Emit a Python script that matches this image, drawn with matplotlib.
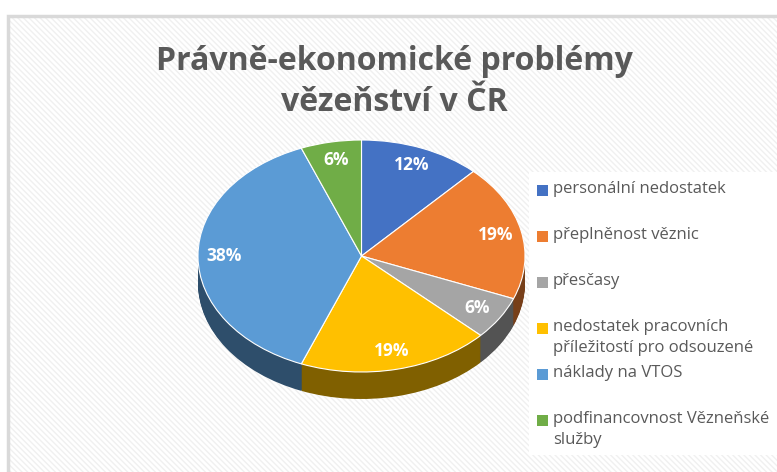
import numpy as np
import matplotlib.pyplot as plt
from matplotlib.patches import Rectangle
from matplotlib.colors import to_rgb

plt.rcParams['font.family'] = ['Open Sans', 'DejaVu Sans']

categories = ['personální nedostatek', 'přeplněnost věznic', 'přesčasy',
              'nedostatek pracovních\npříležitostí pro odsouzené',
              'náklady na VTOS', 'podfinancovnost Vězneňské\nslužby']
shares = [12, 19, 6, 19, 38, 6]
colors = ['#4472C4', '#ED7D31', '#A5A5A5', '#FFC000', '#5B9BD5', '#70AD47']
title = 'Právně-ekonomické problémy\nvězeňství v ČR'

W, H = 777, 472
fig = plt.figure(figsize=(W / 100, H / 100), dpi=100)
fig.patch.set_facecolor('white')

def fx(px):
    return px / W

def fy(py):
    return 1 - py / H

# chart area background with faint diagonal texture
bg = Rectangle((fx(7), 0), 1, fy(15), transform=fig.transFigure,
               facecolor='white', edgecolor='#F0F0F0', hatch='\\\\\\\\\\\\',
               linewidth=0, zorder=0)
fig.patches.append(bg)
frame = Rectangle((fx(8), -0.1), 1.1, fy(16) + 0.1, transform=fig.transFigure,
                  facecolor='none', edgecolor='#D9D9D9', linewidth=2.5, zorder=1)
fig.patches.append(frame)
leg_bg = Rectangle((fx(529), fy(455)), 1, fy(172) - fy(455), transform=fig.transFigure,
                   facecolor='white', edgecolor='none', zorder=1)
fig.patches.append(leg_bg)

fig.text(fx(394), fy(82), title, ha='center', va='center', fontsize=23,
         fontweight='bold', color='#595959', linespacing=1.3, zorder=3)

# pie: top face ellipse x 198..525, y 140..372, rim depth ~27px
depth = 27 / 116
ax = fig.add_axes([fx(198), fy(372 + 27), fx(525) - fx(198), fy(140) - fy(372 + 27)])
ax.set_zorder(2)
n_layers = 30
side_colors = [tuple(c * 0.5 for c in to_rgb(col)) for col in colors]
for k in range(n_layers, 0, -1):
    ax.pie(shares, colors=side_colors, startangle=90, counterclock=False,
           center=(0, -depth * k / n_layers), radius=1,
           wedgeprops=dict(linewidth=0))
wedges, _, autotexts = ax.pie(shares, colors=colors, startangle=90, counterclock=False,
                              center=(0, 0), radius=1, autopct='%1.0f%%',
                              pctdistance=0.84,
                              wedgeprops=dict(linewidth=0.8, edgecolor='white'),
                              textprops=dict(color='white', fontweight='bold', fontsize=12.5))
ax.set_aspect('auto')
ax.set_xlim(-1, 1)
ax.set_ylim(-1 - depth, 1)
ax.axis('off')

# legend
for i, (lab, col) in enumerate(zip(categories, colors)):
    y = 190 + 46 * i
    fig.patches.append(Rectangle((fx(537), fy(y + 6)), fx(11), 11 / H,
                                 transform=fig.transFigure, facecolor=col,
                                 edgecolor='none', zorder=3))
    fig.text(fx(553), fy(y - 9), lab, ha='left', va='top', fontsize=12,
             color='#595959', linespacing=1.45, zorder=3)

fig.savefig('out.png', dpi=100)
